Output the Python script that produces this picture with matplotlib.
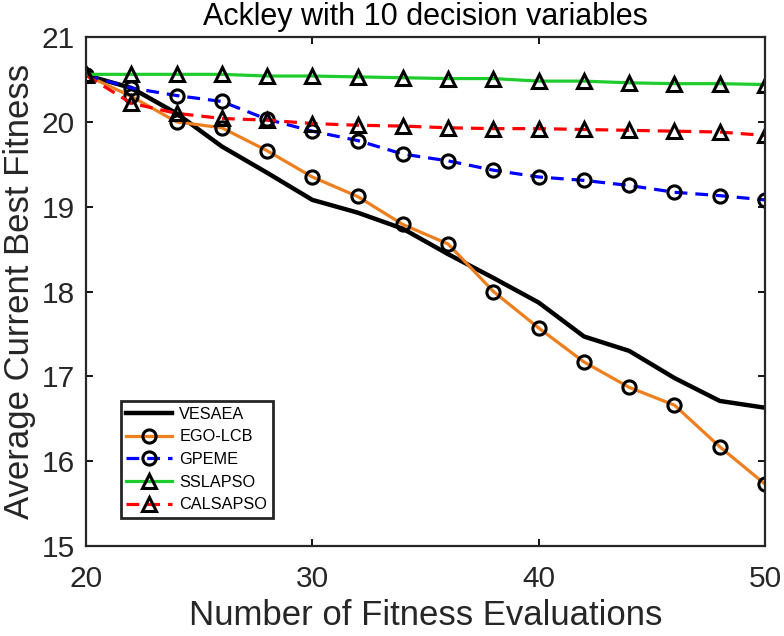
"""
Ackley (10 decision variables) convergence plot
"""

import matplotlib
matplotlib.use('Agg')
import matplotlib.pyplot as plt

plt.rcParams['font.family'] = ['Liberation Sans', 'DejaVu Sans']

# evaluations
evals = [20, 22, 24, 26, 28, 30, 32, 34, 36, 38, 40, 42, 44, 46, 48, 50]

# average current best fitness per algorithm
vesaea = [20.55, 20.40, 20.10, 19.71, 19.40, 19.08, 18.93, 18.74, 18.44, 18.16,
          17.87, 17.47, 17.30, 16.98, 16.71, 16.63]
ego_lcb = [20.55, 20.30, 20.00, 19.93, 19.66, 19.35, 19.12, 18.79, 18.56, 18.00,
           17.57, 17.17, 16.87, 16.66, 16.17, 15.73]
gpeme = [20.55, 20.40, 20.31, 20.24, 20.03, 19.89, 19.78, 19.62, 19.54, 19.43,
         19.35, 19.31, 19.25, 19.17, 19.13, 19.08]
sslapso = [20.56, 20.56, 20.56, 20.56, 20.54, 20.54, 20.53, 20.52, 20.51, 20.51,
           20.48, 20.48, 20.46, 20.45, 20.45, 20.44]
calsapso = [20.55, 20.22, 20.10, 20.04, 20.02, 19.98, 19.96, 19.95, 19.93, 19.92,
            19.92, 19.91, 19.90, 19.89, 19.88, 19.84]

fig = plt.figure(figsize=(7.84, 6.36), dpi=100)
ax = fig.add_axes([0.1097, 0.1415, 0.8661, 0.8003])

lw = 2.3
mk = dict(markersize=9.5, markeredgewidth=2.2, markeredgecolor='black', markerfacecolor='none')

ax.plot(evals, vesaea, color='black', lw=3.2, label='VESAEA')
ax.plot(evals, ego_lcb, color='#ED7F1F', lw=lw, marker='o', label='EGO-LCB', **mk)
ax.plot(evals, gpeme, color='#0000FF', lw=lw, ls=(0, (4, 2.5)), marker='o', label='GPEME', **mk)
ax.plot(evals, sslapso, color='#1FCC2E', lw=lw, marker='^', label='SSLAPSO', **mk)
ax.plot(evals, calsapso, color='#FF0000', lw=lw, ls=(0, (4, 2.5)), marker='^', label='CALSAPSO', **mk)

ax.set_xlim(20, 50)
ax.set_ylim(15, 21)
ax.set_xticks([20, 30, 40, 50])
ax.set_yticks([15, 16, 17, 18, 19, 20, 21])
ax.tick_params(direction='in', top=True, right=True, labelsize=21.5, length=5,
               width=1.3, labelcolor='#262626')
ax.tick_params(axis='x', pad=14)
ax.tick_params(axis='y', pad=8)
for s in ax.spines.values():
    s.set_linewidth(1.6)
    s.set_color('#262626')

ax.set_xlabel('Number of Fitness Evaluations', fontsize=25, color='#262626', labelpad=4)
ax.set_ylabel('Average Current Best Fitness', fontsize=25, color='#262626', labelpad=4)
ax.set_title('Ackley with 10 decision variables', fontsize=22, pad=9)

leg = ax.legend(loc='lower left', bbox_to_anchor=(0.051, 0.055), fontsize=11.7,
                fancybox=False, framealpha=1, edgecolor='#262626',
                handlelength=2.8, borderpad=0.35, labelspacing=0.47,
                handletextpad=0.45, borderaxespad=0)
leg.get_frame().set_linewidth(2)

plt.savefig('out.png', dpi=100)
